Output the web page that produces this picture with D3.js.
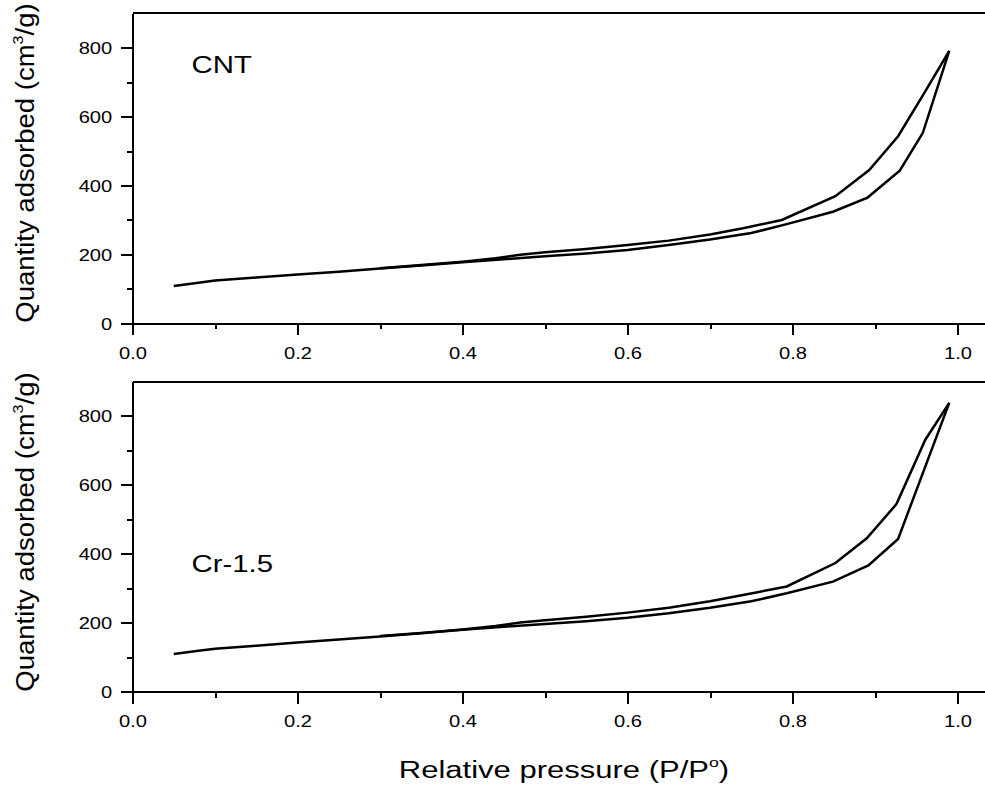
<!DOCTYPE html>
<html>
<head>
<meta charset="utf-8">
<script src="https://cdn.jsdelivr.net/npm/d3@7"></script>
<style>
  html, body { margin: 0; padding: 0; background: #fff; }
  svg { display: block; font-family: "Liberation Sans", Arial, sans-serif; }
</style>
</head>
<body>
<svg id="chart" width="985" height="787"></svg>
<script>
// ---- data ----
const xTicksMajor = [0.0, 0.2, 0.4, 0.6, 0.8, 1.0];
const xTicksMinor = [0.1, 0.3, 0.5, 0.7, 0.9];
const yTicksMajor = [0, 200, 400, 600, 800];
const yTicksMinor = [100, 300, 500, 700];

const cntAdsP = [0.050, 0.080, 0.100, 0.150, 0.200, 0.250, 0.300, 0.350, 0.400, 0.450, 0.500, 0.550, 0.600, 0.650, 0.700, 0.750, 0.793, 0.849, 0.891, 0.930, 0.958, 0.990];
const cntAdsV = [108, 118, 124, 133, 142, 150, 159, 168, 177, 186, 195, 203, 213, 227, 243, 262, 288, 324, 365, 443, 553, 791];
const cntDesP = [0.990, 0.960, 0.928, 0.893, 0.852, 0.787, 0.740, 0.700, 0.650, 0.600, 0.550, 0.500, 0.470, 0.440, 0.400, 0.350, 0.300];
const cntDesV = [791, 670, 543, 445, 369, 300, 276, 258, 240, 227, 216, 206, 199, 189, 179, 169, 160];

const crAdsP = [0.050, 0.080, 0.100, 0.150, 0.200, 0.250, 0.300, 0.350, 0.400, 0.450, 0.500, 0.550, 0.600, 0.650, 0.700, 0.750, 0.793, 0.849, 0.892, 0.928, 0.990];
const crAdsV = [109, 118, 124, 133, 142, 151, 160, 169, 179, 188, 196, 204, 214, 227, 243, 262, 285, 319, 366, 443, 838];
const crDesP = [0.990, 0.961, 0.926, 0.890, 0.852, 0.793, 0.740, 0.700, 0.650, 0.600, 0.550, 0.500, 0.470, 0.440, 0.400, 0.350, 0.300];
const crDesV = [838, 731, 544, 445, 373, 305, 280, 262, 243, 229, 217, 207, 200, 190, 180, 170, 161];

const panels = [
  { name: "CNT", ads: [cntAdsP, cntAdsV], des: [cntDesP, cntDesV], y0: 323.3, y1: 13.3, labelY: 73, titleY: 163 },
  { name: "Cr-1.5", ads: [crAdsP, crAdsV], des: [crDesP, crDesV], y0: 691.5, y1: 381.5, labelY: 572, titleY: 532 }
];

// ---- drawing ----
const svg = d3.select("#chart");
const left = 132.5, xOne = 957.5, right = 985;
const x = d3.scaleLinear().domain([0, 1]).range([left, xOne]);
const xMax = x.invert(right);
const xAxisScale = d3.scaleLinear().domain([0, xMax]).range([left, right]);
const SX = 1.22;
const FONT = "Liberation Sans, Arial, sans-serif";

const line = d3.line().x(d => x(d[0])).y(d => d[1]);

panels.forEach(pn => {
  const y = d3.scaleLinear().domain([0, 900]).range([pn.y0, pn.y1]);
  const g = svg.append("g");

  // top frame line
  g.append("line")
    .attr("x1", left).attr("x2", right)
    .attr("y1", y(900)).attr("y2", y(900))
    .attr("stroke", "#000").attr("stroke-width", 2).attr("shape-rendering", "crispEdges");

  // x axis
  const gx = g.append("g").attr("transform", `translate(0,${pn.y0})`);
  gx.call(d3.axisBottom(xAxisScale).tickValues(xTicksMajor).tickSize(12).tickSizeOuter(0).tickFormat(d3.format(".1f")));
  gx.append("g").call(d3.axisBottom(xAxisScale).tickValues(xTicksMinor).tickSize(6).tickFormat(""))
    .select(".domain").remove();
  gx.selectAll("text").attr("y", 23.5).attr("dy", "0.71em")
    .attr("font-size", 16.5).attr("font-family", FONT)
    .attr("fill", "#000").attr("transform", `scale(${SX},1)`);

  // y axis
  const gy = g.append("g").attr("transform", `translate(${left},0)`);
  gy.call(d3.axisLeft(y).tickValues(yTicksMajor).tickSize(12).tickSizeOuter(0).tickFormat(d3.format("d")));
  gy.append("g").call(d3.axisLeft(y).tickValues(yTicksMinor).tickSize(6).tickFormat(""))
    .select(".domain").remove();
  gy.selectAll("text").attr("x", -20.3 / SX).attr("dy", "0.35em")
    .attr("font-size", 16.5).attr("font-family", FONT)
    .attr("fill", "#000").attr("transform", `scale(${SX},1)`);

  svg.selectAll(".domain, .tick line").attr("stroke", "#000").attr("stroke-width", 2).attr("shape-rendering", "crispEdges");

  // curves
  [pn.ads, pn.des].forEach(series => {
    const pts = series[0].map((p, i) => [p, y(series[1][i])]);
    g.append("path").datum(pts)
      .attr("d", line)
      .attr("fill", "none").attr("stroke", "#000").attr("stroke-width", 2.5)
      .attr("stroke-linejoin", "miter");
  });

  // sample label
  g.append("text")
    .attr("transform", `translate(191.5,${pn.labelY}) scale(1.25,1)`)
    .attr("font-size", 23.5).attr("fill", "#000")
    .text(pn.name);

  // y title
  const yt = g.append("text")
    .attr("transform", `translate(34,${pn.titleY}) rotate(-90) scale(1.08,1)`)
    .attr("text-anchor", "middle").attr("font-size", 25.5).attr("fill", "#000");
  yt.append("tspan").text("Quantity adsorbed (cm");
  yt.append("tspan").attr("font-size", 15).attr("dy", -11).text("3");
  yt.append("tspan").attr("dy", 11).text("/g)");
});

// x title
const xt = svg.append("text")
  .attr("transform", `translate(564,777.5) scale(1.32,1)`)
  .attr("text-anchor", "middle").attr("font-size", 23.5).attr("fill", "#000");
xt.append("tspan").text("Relative pressure (P/P");
xt.append("tspan").attr("font-size", 13.5).attr("dy", -11).text("o");
xt.append("tspan").attr("dy", 11).text(")");
</script>
</body>
</html>
